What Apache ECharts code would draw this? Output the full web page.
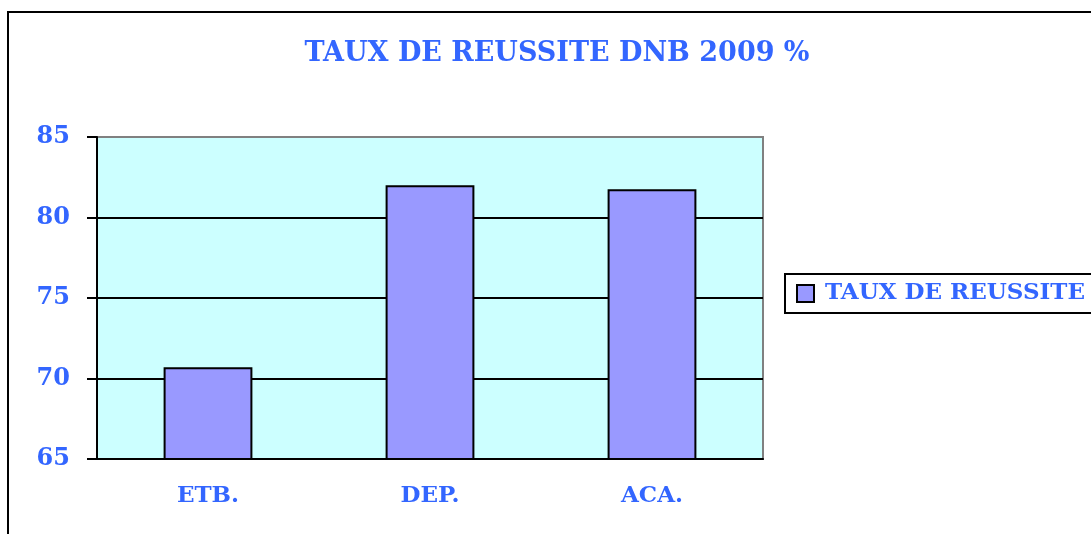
<!DOCTYPE html>
<html>
<head>
<meta charset="utf-8">
<script src="https://cdn.jsdelivr.net/npm/echarts@6/dist/echarts.min.js"></script>
<style>
  html, body { margin: 0; padding: 0; background: #fff; }
  #main { width: 1091px; height: 534px; }
</style>
</head>
<body>
<div id="main"></div>
<script>
// valeurs
var categories = ['ETB.', 'DEP.', 'ACA.'];
var tauxReussite = [70.7, 82.0, 81.75];
var yTicks = [65, 70, 75, 80, 85];

var blue = '#3366ff';
var font = 'DejaVu Serif';

window.addEventListener('load', function () {
    var myChart = echarts.init(document.getElementById('main'));

    var option = {
        animation: false,
        title: {
            text: 'TAUX DE REUSSITE DNB 2009 %',
            left: 552,
            top: 35,
            textAlign: 'center',
            textStyle: { color: blue, fontFamily: font, fontWeight: 'bold', fontSize: 27 }
        },
        legend: {
            left: 785,
            top: 274,
            padding: [8, 40, 8, 11],
            borderColor: '#000',
            borderWidth: 2,
            itemWidth: 17,
            itemHeight: 17,
            icon: 'rect',
            textStyle: { color: blue, fontFamily: font, fontWeight: 'bold', fontSize: 23, padding: [0, 0, 0, 6] },
            data: ['TAUX DE REUSSITE']
        },
        graphic: [{
            // cadre extérieur
            type: 'rect',
            shape: { x: 8, y: 12, width: 1200, height: 600 },
            style: { fill: 'none', stroke: '#000', lineWidth: 2 },
            silent: true
        }],
        grid: {
            left: 97,
            top: 137,
            right: 328,
            bottom: 75,
            show: true,
            backgroundColor: '#ccffff',
            borderColor: '#808080',
            borderWidth: 2
        },
        xAxis: {
            type: 'category',
            data: categories,
            axisLine: { lineStyle: { color: '#000', width: 2 } },
            axisTick: { length: 8, lineStyle: { color: '#000', width: 2 } },
            axisLabel: { color: blue, fontFamily: font, fontWeight: 'bold', fontSize: 23, margin: 26 }
        },
        yAxis: {
            type: 'value',
            min: yTicks[0],
            max: yTicks[yTicks.length - 1],
            interval: 5,
            axisLine: { show: true, lineStyle: { color: '#000', width: 2 } },
            axisTick: { show: true, length: 10, lineStyle: { color: '#000', width: 2 } },
            axisLabel: { color: blue, fontFamily: font, fontWeight: 'bold', fontSize: 24, margin: 27 },
            splitLine: { show: true, showMaxLine: false, lineStyle: { color: '#000', width: 2 } }
        },
        series: [{
            name: 'TAUX DE REUSSITE',
            type: 'bar',
            data: tauxReussite,
            barCategoryGap: '60%',
            itemStyle: { color: '#9999ff', borderColor: '#000', borderWidth: 2 }
        }]
    };

    myChart.setOption(option);
}, false);
</script>
</body>
</html>
